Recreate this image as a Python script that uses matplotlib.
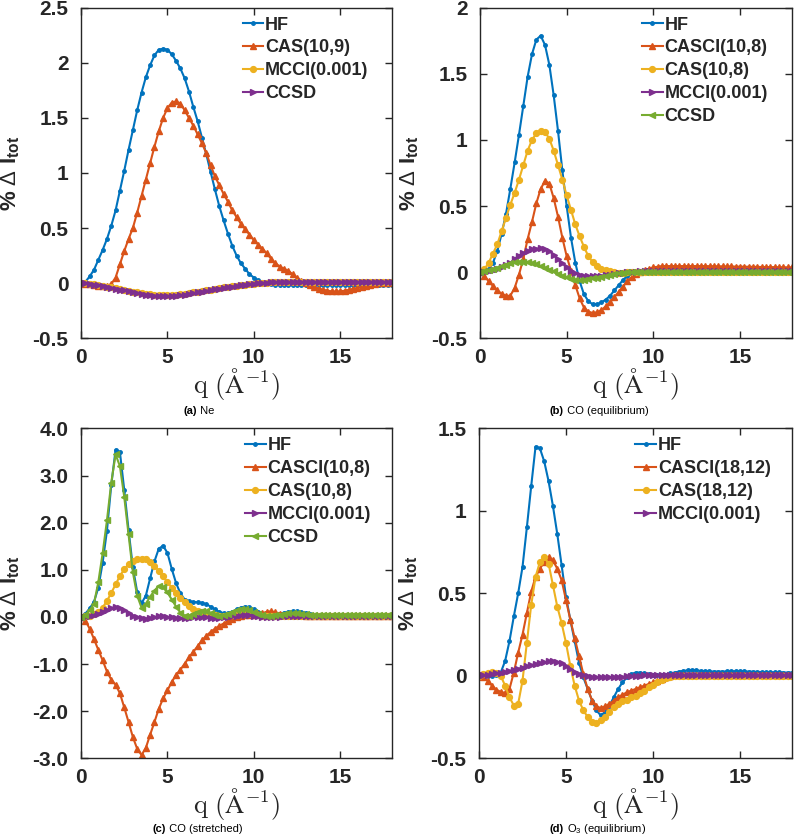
import numpy as np
import matplotlib
matplotlib.use("Agg")
import matplotlib.pyplot as plt
from matplotlib.ticker import FuncFormatter, MultipleLocator

plt.rcParams['font.family'] = ['Liberation Sans', 'DejaVu Sans']
plt.rcParams['mathtext.fontset'] = 'custom'
plt.rcParams['mathtext.rm'] = 'Liberation Sans'
plt.rcParams['mathtext.it'] = 'Liberation Sans:italic'
plt.rcParams['mathtext.bf'] = 'Liberation Sans:bold'

# momentum transfer grid (1/Angstrom)
Q = np.linspace(0, 18, 73)

# ---------------- (a) Ne ----------------
A_HF = [0.00, 0.01, 0.06, 0.12,  0.21, 0.30, 0.40, 0.52,  0.66, 0.84, 1.02, 1.21,
        1.39, 1.57, 1.73, 1.87,  1.98, 2.07, 2.12, 2.13,  2.12, 2.08, 2.02, 1.95,
        1.86, 1.74, 1.60, 1.47,  1.32, 1.17, 1.01, 0.85,  0.70, 0.57, 0.45, 0.34,
        0.25, 0.18, 0.13, 0.08,  0.05, 0.025, 0.01, 0.0,  -0.01, -0.015, -0.018, -0.02,
        -0.02, -0.02, -0.02, -0.02,  -0.02, -0.02, -0.02, -0.02,  -0.02, -0.02, -0.02, -0.02,
        -0.02, -0.02, -0.02, -0.02,  -0.018, -0.018, -0.017, -0.017,  -0.016, -0.016, -0.015, -0.015,
        -0.015]
A_CAS = [0.0, -0.005, -0.01, -0.02,  -0.025, -0.03, -0.025, -0.01,  0.05, 0.17, 0.29, 0.40,
         0.50, 0.64, 0.79, 0.94,  1.09, 1.24, 1.38, 1.50,  1.59, 1.64, 1.65, 1.63,
         1.57, 1.50, 1.43, 1.35,  1.27, 1.18, 1.07, 0.97,  0.89, 0.81, 0.74, 0.66,
         0.60, 0.54, 0.49, 0.44,  0.39, 0.35, 0.31, 0.27,  0.22, 0.18, 0.15, 0.13,
         0.11, 0.08, 0.05, 0.02,  0.0, -0.02, -0.035, -0.05,  -0.06, -0.07, -0.075, -0.077,
         -0.075, -0.07, -0.062, -0.053,  -0.044, -0.035, -0.026, -0.018,  -0.01, -0.004, 0.0, 0.004,
         0.006]
A_MCCI = [0.0, -0.003, -0.007, -0.013,  -0.019, -0.025, -0.032, -0.04,  -0.048, -0.055, -0.063, -0.071,
          -0.078, -0.085, -0.091, -0.097,  -0.101, -0.105, -0.108, -0.109,  -0.109, -0.108, -0.105, -0.101,
          -0.097, -0.091, -0.086, -0.079,  -0.073, -0.066, -0.06, -0.053,  -0.047, -0.04, -0.035, -0.029,
          -0.024, -0.018, -0.014, -0.009,  -0.005, -0.002, 0.001, 0.003,  0.005, 0.007, 0.008, 0.009,
          0.009, 0.009, 0.009, 0.009,  0.009, 0.009, 0.009, 0.009,  0.009, 0.009, 0.009, 0.009,
          0.009, 0.009, 0.009, 0.009,  0.009, 0.009, 0.009, 0.009,  0.009, 0.009, 0.009, 0.009,
          0.009]
A_CCSD = [0.0, -0.003, -0.008, -0.014,  -0.02, -0.027, -0.035, -0.043,  -0.052, -0.06, -0.068, -0.077,
          -0.085, -0.092, -0.099, -0.105,  -0.11, -0.114, -0.117, -0.118,  -0.118, -0.117, -0.114, -0.11,
          -0.105, -0.099, -0.093, -0.086,  -0.079, -0.072, -0.065, -0.058,  -0.051, -0.044, -0.038, -0.032,
          -0.026, -0.02, -0.015, -0.01,  -0.006, -0.002, 0.001, 0.004,  0.006, 0.008, 0.009, 0.01,
          0.01, 0.01, 0.01, 0.01,  0.01, 0.01, 0.01, 0.01,  0.01, 0.01, 0.01, 0.01,
          0.01, 0.01, 0.01, 0.01,  0.01, 0.01, 0.01, 0.01,  0.01, 0.01, 0.01, 0.01,
          0.01]

# ---------------- (b) CO equilibrium ----------------
B_HF = [0.0, 0.0, 0.02, 0.07,  0.16, 0.29, 0.44, 0.63,  0.83, 1.04, 1.26, 1.48,
        1.65, 1.76, 1.79, 1.72,  1.57, 1.34, 1.07, 0.77,  0.50, 0.26, 0.07, -0.07,
        -0.17, -0.22, -0.245, -0.245,  -0.23, -0.21, -0.18, -0.14,  -0.10, -0.06, -0.03, -0.01,
        0.0, 0.005, 0.01, 0.01,  0.01, 0.01, 0.01, 0.01,  0.01, 0.01, 0.01, 0.01,
        0.01, 0.01, 0.01, 0.01,  0.01, 0.01, 0.01, 0.01,  0.01, 0.01, 0.01, 0.01,
        0.01, 0.01, 0.01, 0.01,  0.01, 0.01, 0.01, 0.01,  0.01, 0.01, 0.01, 0.01,
        0.01]
B_CASCI = [0.0, -0.03, -0.07, -0.105,  -0.14, -0.165, -0.18, -0.18,  -0.12, -0.02, 0.10, 0.25,
           0.38, 0.52, 0.63, 0.69,  0.67, 0.56, 0.42, 0.26,  0.12, 0.01, -0.10, -0.20,
           -0.27, -0.30, -0.31, -0.305,  -0.29, -0.26, -0.23, -0.19,  -0.15, -0.11, -0.07, -0.04,
           -0.015, 0.0, 0.015, 0.025,  0.035, 0.04, 0.045, 0.045,  0.045, 0.045, 0.045, 0.045,
           0.045, 0.045, 0.045, 0.045,  0.045, 0.044, 0.044, 0.043,  0.043, 0.042, 0.042, 0.041,
           0.041, 0.04, 0.04, 0.039,  0.039, 0.038, 0.038, 0.037,  0.037, 0.036, 0.036, 0.035,
           0.035]
B_CAS = [0.0, 0.02, 0.07, 0.14,  0.21, 0.31, 0.41, 0.51,  0.60, 0.70, 0.81, 0.92,
         1.00, 1.05, 1.07, 1.06,  1.01, 0.92, 0.81, 0.70,  0.58, 0.47, 0.36, 0.27,
         0.19, 0.12, 0.075, 0.045,  0.025, 0.015, 0.005, 0.0,  -0.005, -0.005, -0.003, 0.0,
         0.002, 0.002, 0.002, 0.002,  0.002, 0.002, 0.002, 0.002,  0.003, 0.003, 0.003, 0.003,
         0.003, 0.003, 0.003, 0.003,  0.003, 0.003, 0.003, 0.003,  0.003, 0.003, 0.003, 0.003,
         0.003, 0.003, 0.003, 0.003,  0.003, 0.003, 0.003, 0.003,  0.003, 0.003, 0.003, 0.003,
         0.003]
B_MCCI = [0.0, 0.003, 0.008, 0.015,  0.025, 0.035, 0.05, 0.07,  0.10, 0.125, 0.145, 0.16,
          0.172, 0.178, 0.18, 0.175,  0.16, 0.13, 0.095, 0.065,  0.035, 0.01, -0.01, -0.022,
          -0.028, -0.03, -0.03, -0.029,  -0.027, -0.024, -0.02, -0.015,  -0.01, -0.005, -0.002, 0.0,
          0.003, 0.004, 0.005, 0.005,  0.005, 0.005, 0.005, 0.005,  0.005, 0.005, 0.005, 0.005,
          0.005, 0.005, 0.005, 0.005,  0.005, 0.005, 0.005, 0.005,  0.005, 0.005, 0.005, 0.005,
          0.005, 0.005, 0.005, 0.005,  0.005, 0.005, 0.005, 0.005,  0.005, 0.005, 0.005, 0.005,
          0.005]
B_CCSD = [0.0, 0.005, 0.012, 0.022,  0.033, 0.045, 0.056, 0.066,  0.073, 0.077, 0.078, 0.075,
          0.068, 0.058, 0.045, 0.032,  0.018, 0.004, -0.012, -0.027,  -0.04, -0.05, -0.057, -0.06,
          -0.059, -0.055, -0.049, -0.042,  -0.035, -0.028, -0.021, -0.015,  -0.01, -0.006, -0.003, 0.0,
          0.002, 0.002, 0.002, 0.002,  0.002, 0.002, 0.002, 0.002,  0.002, 0.002, 0.002, 0.002,
          0.002, 0.002, 0.002, 0.002,  0.002, 0.002, 0.002, 0.002,  0.002, 0.002, 0.002, 0.002,
          0.002, 0.002, 0.002, 0.002,  0.002, 0.002, 0.002, 0.002,  0.002, 0.002, 0.002, 0.002,
          0.002]

# ---------------- (c) CO stretched ----------------
C_HF = [0.0, 0.07, 0.18, 0.32,  0.62, 1.15, 1.83, 2.80,  3.55, 3.50, 2.70, 1.85,
        1.05, 0.53, 0.29, 0.45,  0.82, 1.18, 1.45, 1.51,  1.36, 1.02, 0.72, 0.50,
        0.37, 0.33, 0.32, 0.31,  0.30, 0.27, 0.22, 0.16,  0.11, 0.08, 0.08, 0.11,
        0.16, 0.20, 0.22, 0.21,  0.16, 0.11, 0.07, 0.05,  0.04, 0.05, 0.07, 0.09,
        0.11, 0.12, 0.12, 0.11,  0.09, 0.07, 0.05, 0.04,  0.035, 0.035, 0.04, 0.045,
        0.05, 0.05, 0.05, 0.05,  0.05, 0.045, 0.045, 0.045,  0.045, 0.045, 0.045, 0.045,
        0.045]
C_CASCI = [0.0, -0.08, -0.25, -0.47,  -0.70, -0.92, -1.16, -1.33,  -1.44, -1.62, -1.92, -2.23,
           -2.55, -2.80, -2.93, -2.78,  -2.50, -2.23, -1.95, -1.73,  -1.56, -1.38, -1.23, -1.12,
           -0.99, -0.86, -0.74, -0.62,  -0.50, -0.40, -0.32, -0.25,  -0.19, -0.14, -0.09, -0.05,
           -0.01, 0.02, 0.04, 0.05,  0.05, 0.06, 0.08, 0.11,  0.12, 0.10, 0.07, 0.05,
           0.04, 0.035, 0.035, 0.035,  0.03, 0.03, 0.03, 0.03,  0.03, 0.03, 0.03, 0.03,
           0.03, 0.03, 0.03, 0.03,  0.03, 0.03, 0.03, 0.03,  0.03, 0.03, 0.03, 0.03,
           0.03]
C_CAS = [0.0, 0.01, 0.03, 0.06,  0.11, 0.20, 0.34, 0.51,  0.69, 0.87, 1.01, 1.12,
         1.19, 1.23, 1.24, 1.22,  1.17, 1.08, 0.98, 0.86,  0.74, 0.62, 0.51, 0.41,
         0.32, 0.23, 0.17, 0.13,  0.10, 0.07, 0.05, 0.04,  0.03, 0.03, 0.04, 0.05,
         0.06, 0.07, 0.07, 0.06,  0.05, 0.04, 0.03, 0.03,  0.03, 0.03, 0.03, 0.03,
         0.03, 0.03, 0.03, 0.03,  0.03, 0.03, 0.03, 0.03,  0.03, 0.03, 0.03, 0.03,
         0.03, 0.03, 0.03, 0.03,  0.03, 0.03, 0.03, 0.03,  0.03, 0.03, 0.03, 0.03,
         0.03]
C_MCCI = [0.0, 0.005, 0.02, 0.04,  0.07, 0.11, 0.15, 0.19,  0.21, 0.19, 0.14, 0.08,
          0.03, -0.01, -0.03, -0.035,  -0.02, 0.0, 0.01, 0.01,  0.0, -0.01, -0.02, -0.03,
          -0.03, -0.02, -0.01, 0.0,  0.0, -0.01, -0.02, -0.025,  -0.02, -0.01, 0.0, 0.02,
          0.03, 0.04, 0.045, 0.04,  0.025, 0.01, 0.0, -0.005,  -0.005, 0.0, 0.005, 0.01,
          0.01, 0.01, 0.01, 0.01,  0.01, 0.01, 0.01, 0.01,  0.01, 0.01, 0.01, 0.01,
          0.01, 0.01, 0.01, 0.01,  0.01, 0.01, 0.01, 0.01,  0.01, 0.01, 0.01, 0.01,
          0.01]
C_CCSD = [0.0, 0.05, 0.14, 0.28,  0.74, 1.35, 2.05, 2.85,  3.45, 3.20, 2.55, 1.75,
          0.95, 0.45, 0.20, 0.28,  0.43, 0.56, 0.66, 0.63,  0.52, 0.37, 0.22, 0.09,
          0.03, 0.03, 0.07, 0.11,  0.13, 0.12, 0.09, 0.05,  0.03, 0.04, 0.07, 0.11,
          0.14, 0.16, 0.16, 0.14,  0.10, 0.06, 0.04, 0.03,  0.03, 0.04, 0.05, 0.07,
          0.08, 0.08, 0.08, 0.07,  0.06, 0.05, 0.04, 0.035,  0.035, 0.035, 0.04, 0.04,
          0.04, 0.04, 0.04, 0.04,  0.04, 0.04, 0.04, 0.04,  0.04, 0.04, 0.04, 0.04,
          0.04]

# ---------------- (d) O3 equilibrium ----------------
D_HF = [0.0, 0.0, 0.0, 0.0,  0.005, 0.02, 0.09, 0.21,  0.36, 0.50, 0.66, 0.90,
        1.15, 1.39, 1.38, 1.30,  1.18, 1.03, 0.86, 0.67,  0.48, 0.34, 0.21, 0.08,
        -0.01, -0.08, -0.15, -0.21,  -0.24, -0.22, -0.18, -0.13,  -0.08, -0.04, -0.01, 0.01,
        0.02, 0.02, 0.015, 0.01,  0.005, 0.005, 0.005, 0.008,  0.015, 0.02, 0.026, 0.03,
        0.033, 0.035, 0.033, 0.03,  0.028, 0.027, 0.026, 0.026,  0.026, 0.027, 0.028, 0.028,
        0.028, 0.027, 0.026, 0.025,  0.024, 0.023, 0.022, 0.022,  0.021, 0.021, 0.02, 0.02,
        0.02]
D_CASCI = [0.0, -0.01, -0.03, -0.06,  -0.085, -0.097, -0.105, -0.08,  0.02, 0.14, 0.25, 0.38,
           0.51, 0.60, 0.65, 0.69,  0.72, 0.70, 0.65, 0.58,  0.46, 0.34, 0.23, 0.12,
           0.01, -0.08, -0.15, -0.185,  -0.195, -0.185, -0.17, -0.15,  -0.13, -0.115, -0.10, -0.09,
           -0.08, -0.07, -0.06, -0.05,  -0.04, -0.03, -0.02, -0.01,  0.0, 0.002, 0.003, 0.004,
           0.004, 0.004, 0.004, 0.004,  0.004, 0.004, 0.004, 0.004,  0.004, 0.004, 0.004, 0.004,
           0.004, 0.004, 0.004, 0.004,  0.004, 0.004, 0.004, 0.004,  0.004, 0.004, 0.004, 0.004,
           0.004]
D_CAS = [0.0, 0.01, 0.02, 0.025,  0.02, 0.0, -0.06, -0.13,  -0.18, -0.17, -0.03, 0.20,
         0.43, 0.60, 0.69, 0.72,  0.68, 0.55, 0.42, 0.32,  0.20, 0.06, -0.06, -0.15,
         -0.21, -0.25, -0.28, -0.285,  -0.27, -0.25, -0.22, -0.19,  -0.17, -0.155, -0.145, -0.13,
         -0.12, -0.105, -0.09, -0.07,  -0.055, -0.04, -0.025, -0.015,  -0.005, 0.0, 0.0, 0.0,
         0.0, 0.0, 0.0, 0.0,  0.0, 0.0, 0.0, 0.0,  0.0, 0.0, 0.0, 0.0,
         0.0, 0.0, 0.0, 0.0,  0.0, 0.0, 0.0, 0.0,  0.0, 0.0, 0.0, 0.0,
         0.0]
D_MCCI = [0.0, 0.002, 0.005, 0.01,  0.015, 0.02, 0.025, 0.03,  0.037, 0.043, 0.05, 0.058,
          0.065, 0.072, 0.078, 0.083,  0.087, 0.088, 0.085, 0.075,  0.06, 0.042, 0.025, 0.012,
          0.002, -0.004, -0.007, -0.008,  -0.009, -0.009, -0.008, -0.007,  -0.006, -0.005, -0.004, -0.002,
          0.0, 0.001, 0.002, 0.002,  0.002, 0.002, 0.002, 0.002,  0.002, 0.002, 0.002, 0.002,
          0.002, 0.002, 0.002, 0.002,  0.002, 0.002, 0.002, 0.002,  0.002, 0.002, 0.002, 0.002,
          0.002, 0.002, 0.002, 0.002,  0.002, 0.002, 0.002, 0.002,  0.002, 0.002, 0.002, 0.002,
          0.002]

LABELS_A = ['HF', 'CAS(10,9)', 'MCCI(0.001)', 'CCSD']
LABELS_B = ['HF', 'CASCI(10,8)', 'CAS(10,8)', 'MCCI(0.001)', 'CCSD']
LABELS_C = ['HF', 'CASCI(10,8)', 'CAS(10,8)', 'MCCI(0.001)', 'CCSD']
LABELS_D = ['HF', 'CASCI(18,12)', 'CAS(18,12)', 'MCCI(0.001)']

COLORS = ['#0072BD', '#D95319', '#EDB120', '#7E2F8E', '#77AC30']
MARKERS = ['.', '^', 'o', '>', '<']
MSIZES = [5, 4.8, 4.2, 4.2, 4.2]

fig = plt.figure(figsize=(7.96, 8.40), dpi=100)

panels = [
    ([0.1018, 0.5976, 0.3907, 0.3929], [A_HF, A_CAS, A_MCCI, A_CCSD], LABELS_A,
     (-0.5, 2.5), 0.5, '%g', 0.508),
    ([0.6030, 0.5976, 0.3920, 0.3929], [B_HF, B_CASCI, B_CAS, B_MCCI, B_CCSD], LABELS_B,
     (-0.5, 2.0), 0.5, '%g', 0.508),
    ([0.1018, 0.0973, 0.3907, 0.3926], [C_HF, C_CASCI, C_CAS, C_MCCI, C_CCSD], LABELS_C,
     (-3.0, 4.0), 1.0, '%.1f', 0.515),
    ([0.6018, 0.0973, 0.3932, 0.3926], [D_HF, D_CASCI, D_CAS, D_MCCI], LABELS_D,
     (-0.5, 1.5), 0.5, '%g', 0.488),
]

for rect, series, labels, ylim, ystep, fmt, legx in panels:
    ax = fig.add_axes(rect)
    for i, (ys, lab) in enumerate(zip(series, labels)):
        ax.plot(Q, ys, color=COLORS[i], marker=MARKERS[i], markersize=MSIZES[i],
                linewidth=1.5, label=lab, clip_on=True)
    ax.set_xlim(0, 18)
    ax.set_ylim(*ylim)
    ax.xaxis.set_major_locator(MultipleLocator(5))
    ax.yaxis.set_major_locator(MultipleLocator(ystep))
    ax.yaxis.set_major_formatter(FuncFormatter(lambda v, p, f=fmt: (f % v) if abs(v) > 1e-9 else ('0.0' if f == '%.1f' else '0')))
    for s in ax.spines.values():
        s.set_color('#262626')
        s.set_linewidth(1.0)
    ax.tick_params(direction='in', length=5, width=1.0, top=True, right=True,
                   colors='#262626', labelsize=15)
    ax.tick_params(axis='y', pad=9)
    ax.tick_params(axis='x', pad=7)
    for t in ax.get_xticklabels() + ax.get_yticklabels():
        t.set_fontweight('bold')
        t.set_color('#262626')
    ax.set_ylabel(r'% $\Delta$ I$_{\mathbf{tot}}$', fontsize=16, fontweight='bold', color='#262626')
    ax.yaxis.set_label_coords(-0.19, 0.5)
    ax.set_xlabel(r'$\mathrm{q\ (\AA^{-1})}$', fontsize=19, math_fontfamily='cm', color='#262626')
    ax.xaxis.set_label_coords(0.5, -0.085)
    leg = ax.legend(loc='upper left', bbox_to_anchor=(legx, 0.985), frameon=False,
                    borderaxespad=0.0, borderpad=0.2, labelspacing=0.33, handlelength=1.15,
                    handletextpad=0.1, prop={'weight': 'bold', 'size': 13})
    for t in leg.get_texts():
        t.set_color('#262626')

def caption(xc, y, tag, rest):
    fig.text(xc, y, tag, ha='right', va='center', fontsize=8, fontweight='bold')
    fig.text(xc, y, ' ' + rest, ha='left', va='center', fontsize=8)

caption(197 / 796, 1 - 411 / 840, '(a)', 'Ne')
caption(564 / 796, 1 - 411 / 840, '(b)', 'CO (equilibrium)')
caption(166 / 796, 1 - 829 / 840, '(c)', 'CO (stretched)')
caption(564 / 796, 1 - 829 / 840, '(d)', r'O$_3$ (equilibrium)')

fig.savefig('out.png', dpi=100)
